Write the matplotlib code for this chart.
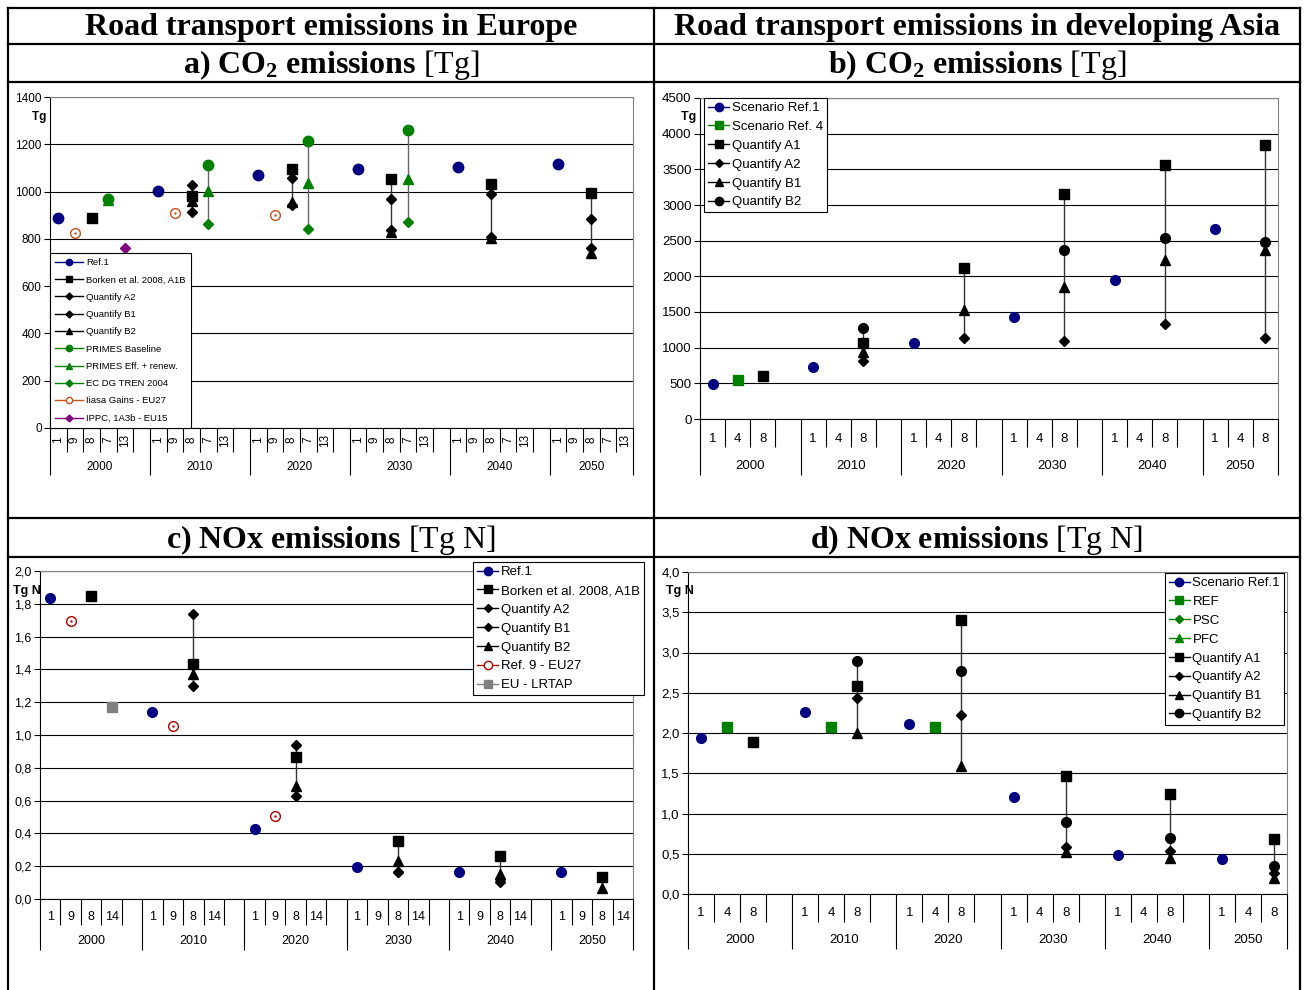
import numpy as np
import matplotlib.pyplot as plt
from matplotlib.lines import Line2D

plt.rcParams['font.family'] = ['Liberation Sans', 'DejaVu Sans']
plt.rcParams['mathtext.fontset'] = 'custom'
plt.rcParams['mathtext.rm'] = 'Liberation Serif'
plt.rcParams['mathtext.bf'] = 'Liberation Serif:bold'
plt.rcParams['mathtext.it'] = 'Liberation Serif:italic'

nan = np.nan
years = ['2000', '2010', '2020', '2030', '2040', '2050']

# a) Europe, CO2 [Tg]
a_slots = ['1', '9', '8', '7', '13']
a_ref1 = [888, 1002, 1070, 1095, 1104, 1117]
a_iiasa = [825, 909, 901, nan, nan, nan]
a_borken = [888, 981, 1095, 1053, 1032, 994]
a_qa2 = [nan, 1028, 1057, 969, 990, 884]
a_qb1 = [nan, 913, 943, 836, 808, 761]
a_qb2 = [nan, 960, 956, 830, 804, 740]
a_primes_base = [969, 1112, 1214, 1260, nan, nan]
a_primes_eff = [963, 1002, 1036, 1053, nan, nan]
a_ecdg = [nan, 863, 842, 871, nan, nan]
a_ippc = [761, nan, nan, nan, nan, nan]

# b) developing Asia, CO2 [Tg]
b_slots = ['1', '4', '8']
b_ref1 = [491, 729, 1065, 1430, 1949, 2664]
b_ref4 = [547, nan, nan, nan, nan, nan]
b_qa1 = [603, 1065, 2117, 3154, 3561, 3841]
b_qa2 = [nan, 813, 1136, 1094, 1332, 1136]
b_qb1 = [nan, 935, 1528, 1851, 2229, 2369]
b_qb2 = [nan, 1276, nan, 2369, 2537, 2481]

# c) Europe, NOx [Tg N]
c_slots = ['1', '9', '8', '14']
c_ref1 = [1.835, 1.14, 0.427, 0.195, 0.165, 0.165]
c_ref9 = [1.695, 1.055, 0.506, nan, nan, nan]
c_borken = [1.848, 1.433, 0.866, 0.354, 0.262, 0.134]
c_qa2 = [nan, 1.738, 0.939, 0.165, 0.104, nan]
c_qb1 = [nan, 1.299, 0.628, 0.165, 0.125, nan]
c_qb2 = [nan, 1.372, 0.689, 0.232, 0.152, 0.067]
c_lrtap = [1.17, nan, nan, nan, nan, nan]

# d) developing Asia, NOx [Tg N]
d_slots = ['1', '4', '8']
d_ref1 = [1.94, 2.26, 2.11, 1.205, 0.49, 0.43]
d_ref = [2.08, 2.08, 2.08, nan, nan, nan]
d_qa1 = [1.89, 2.58, 3.40, 1.465, 1.24, 0.68]
d_qa2 = [nan, 2.43, 2.22, 0.58, 0.53, 0.26]
d_qb1 = [nan, 2.00, 1.59, 0.52, 0.45, 0.20]
d_qb2 = [nan, 2.89, 2.77, 0.89, 0.70, 0.35]

NAVY = '#000080'
GREEN = '#008000'
BLACK = 'black'

W, H = 1306, 990
fig = plt.figure(figsize=(W / 100, H / 100), dpi=100)

# table frame and headers, in pixel coordinates
bg = fig.add_axes([0, 0, 1, 1])
bg.set_xlim(0, W)
bg.set_ylim(H, 0)
bg.axis('off')
for y in [8, 44, 82, 518, 557]:
    bg.plot([8, 1300], [y, y], color='black', lw=1.6)
for x in [8, 654, 1300]:
    bg.plot([x, x], [8, H], color='black', lw=1.6)

head = dict(ha='center', va='baseline', fontsize=23, family='Liberation Serif')
bg.text(331, 35, 'Road transport emissions in Europe', fontweight='bold', **head)
bg.text(977, 35, 'Road transport emissions in developing Asia', fontweight='bold', **head)
bg.text(331, 73, r'$\mathbf{a)\ CO_2\ emissions}$ [Tg]', **head)
bg.text(977, 73, r'$\mathbf{b)\ CO_2\ emissions}$ [Tg]', **head)
bg.text(331, 548, r'$\mathbf{c)\ NOx\ emissions}$ [Tg N]', **head)
bg.text(977, 548, r'$\mathbf{d)\ NOx\ emissions}$ [Tg N]', **head)


def category_axis(box, slots, yticks, ylabels, rotate, fs, short_px, long_px, lab_px, year_px):
    l, t, r, b = box
    ax = fig.add_axes([l / W, 1 - b / H, (r - l) / W, (b - t) / H])
    n = len(slots)
    total = len(years) * (n + 1) - 1
    ax.set_xlim(-0.5, total - 0.5)
    ax.set_ylim(yticks[0], yticks[-1])
    ax.set_yticks(yticks)
    ax.set_yticklabels(ylabels, fontsize=fs)
    ax.set_xticks([])
    ax.grid(axis='y', color='black', lw=0.8)
    ax.set_axisbelow(True)
    ax.tick_params(axis='y', direction='out', length=4, width=0.8, pad=2)
    for s in ['top', 'right']:
        ax.spines[s].set_color('#808080')
    frac = lambda y: (b - y) / (b - t)
    tr = ax.get_xaxis_transform()
    short = [g * (n + 1) + i - 0.5 for g in range(len(years)) for i in range(1, n + 1)]
    short = [s for s in short if s < total - 0.6]
    long_ = [g * (n + 1) - 0.5 for g in range(len(years))] + [total - 0.5]
    ax.vlines(short, frac(short_px), 0, transform=tr, clip_on=False, color='black', lw=0.8)
    ax.vlines(long_, frac(long_px), 0, transform=tr, clip_on=False, color='black', lw=0.8)
    for g, yr in enumerate(years):
        for i, s in enumerate(slots):
            ax.text(g * (n + 1) + i, frac(lab_px), s, transform=tr, ha='center', va='center',
                    rotation=90 if rotate else 0, fontsize=fs)
        x0 = g * (n + 1) - 0.5
        x1 = min(x0 + n + 1, total - 0.5)
        ax.text((x0 + x1) / 2, frac(year_px), yr, transform=tr, ha='center', va='center', fontsize=fs)
    pos = lambda i: [g * (n + 1) + i for g in range(len(years))]
    return ax, pos, frac


def points(ax, x, vals, marker, color, ms, mfc=None, z=3):
    ax.plot(x, vals, ls='none', marker=marker, ms=ms, color=color, mec=color,
            mfc=color if mfc is None else mfc, zorder=z, clip_on=False)
    if mfc == 'white':
        ax.plot(x, vals, ls='none', marker='.', ms=1.5, color=color, zorder=z + 0.1)


def range_line(ax, x, group, color):
    arr = np.array(group, dtype=float)
    lo = np.fmin.reduce(arr, axis=0)
    hi = np.fmax.reduce(arr, axis=0)
    ok = hi > lo
    ax.vlines(np.array(x)[ok], lo[ok], hi[ok], color=color, lw=1, zorder=2)


def handle(marker, color, ms, lc=None, mfc=None):
    return Line2D([], [], color=lc or color, lw=1, marker=marker, ms=ms, mec=color,
                  mfc=color if mfc is None else mfc)


def comma(v):
    return f'{v:.1f}'.replace('.', ',')


def box_legend(ax, hs, labs, **kw):
    leg = ax.legend(hs, labs, borderaxespad=0, fancybox=False, edgecolor='black',
                    framealpha=1, **kw)
    leg.get_frame().set_linewidth(0.8)
    leg.set_zorder(5)
    return leg


# ---------- panel a ----------
yt = np.arange(0, 1401, 200)
ax, pos, frac = category_axis((50, 97, 633, 428), a_slots, yt, [str(v) for v in yt],
                              True, 8.5, 452, 475, 440, 467)
ax.text(0, frac(117), 'Tg ', transform=ax.transAxes, ha='right', va='center',
        fontsize=8.5, fontweight='bold')
range_line(ax, pos(2), [a_borken, a_qa2, a_qb1, a_qb2], '#333333')
range_line(ax, pos(3), [a_primes_base, a_primes_eff, a_ecdg], '#666666')
points(ax, pos(0), a_ref1, 'o', NAVY, 7.5)
points(ax, pos(1), a_iiasa, 'o', '#C8501E', 7, mfc='white')
points(ax, pos(2), a_qb2, '^', BLACK, 7)
points(ax, pos(2), a_qa2, 'D', BLACK, 5.5)
points(ax, pos(2), a_qb1, 'D', BLACK, 5.5)
points(ax, pos(2), a_borken, 's', BLACK, 7.5)
points(ax, pos(3), a_primes_eff, '^', GREEN, 7.5)
points(ax, pos(3), a_ecdg, 'D', GREEN, 5.5)
points(ax, pos(3), a_primes_base, 'o', GREEN, 7.5)
points(ax, pos(4), a_ippc, 'D', '#800080', 5.5)
hs = [handle('o', NAVY, 4.5), handle('s', BLACK, 4.5), handle('D', BLACK, 3.5),
      handle('D', BLACK, 3.5), handle('^', BLACK, 4.5), handle('o', GREEN, 4.5),
      handle('^', GREEN, 4.5), handle('D', GREEN, 3.5),
      handle('o', '#C8501E', 4.5, mfc='white'), handle('D', '#800080', 3.5)]
labs = ['Ref.1', 'Borken et al. 2008, A1B', 'Quantify A2', 'Quantify B1', 'Quantify B2',
        'PRIMES Baseline', 'PRIMES Eff. + renew.', 'EC DG TREN 2004', 'Iiasa Gains - EU27',
        'IPPC, 1A3b - EU15']
box_legend(ax, hs, labs, loc='lower left', bbox_to_anchor=(0, 0), fontsize=6.8,
           labelspacing=0.88, handlelength=2.9, handletextpad=0.4, borderpad=0.55)

# ---------- panel b ----------
yt = np.arange(0, 4501, 500)
ax, pos, frac = category_axis((700, 98, 1278, 419), b_slots, yt, [str(v) for v in yt],
                              False, 9.5, 447, 475, 439, 466)
ax.text(0, frac(117), 'Tg ', transform=ax.transAxes, ha='right', va='center',
        fontsize=9, fontweight='bold')
range_line(ax, pos(2), [b_qa1, b_qa2, b_qb1, b_qb2], '#333333')
points(ax, pos(0), b_ref1, 'o', NAVY, 7)
points(ax, pos(1), b_ref4, 's', GREEN, 7)
points(ax, pos(2), b_qb1, '^', BLACK, 7)
points(ax, pos(2), b_qa2, 'D', BLACK, 5.5)
points(ax, pos(2), b_qa1, 's', BLACK, 7)
points(ax, pos(2), b_qb2, 'o', BLACK, 7)
hs = [handle('o', NAVY, 6), handle('s', GREEN, 6), handle('s', BLACK, 6),
      handle('D', BLACK, 4.5), handle('^', BLACK, 6), handle('o', BLACK, 6)]
labs = ['Scenario Ref.1', 'Scenario Ref. 4', 'Quantify A1', 'Quantify A2', 'Quantify B1',
        'Quantify B2']
box_legend(ax, hs, labs, loc='upper left', bbox_to_anchor=(4 / 578, 1), fontsize=9.5,
           labelspacing=0.5, handlelength=1.6, handletextpad=0.2, borderpad=0.3)

# ---------- panel c ----------
yt = np.round(np.arange(0, 2.01, 0.2), 1)
ax, pos, frac = category_axis((40, 571, 633, 899), c_slots, yt, [comma(v) for v in yt],
                              False, 9, 925, 950, 917, 941)
ax.text(-27 / 593, frac(591), 'Tg N', transform=ax.transAxes, ha='left', va='center',
        fontsize=9, fontweight='bold')
range_line(ax, pos(2), [c_borken, c_qa2, c_qb1, c_qb2], '#333333')
points(ax, pos(0), c_ref1, 'o', NAVY, 7)
points(ax, pos(1), c_ref9, 'o', '#B00000', 7, mfc='white')
points(ax, pos(2), c_qb2, '^', BLACK, 7)
points(ax, pos(2), c_qa2, 'D', BLACK, 5.5)
points(ax, pos(2), c_qb1, 'D', BLACK, 5.5)
points(ax, pos(2), c_borken, 's', BLACK, 7)
points(ax, pos(3), c_lrtap, 's', '#808080', 7)
hs = [handle('o', NAVY, 6), handle('s', BLACK, 6), handle('D', BLACK, 4.5),
      handle('D', BLACK, 4.5), handle('^', BLACK, 6),
      handle('o', '#B00000', 6, mfc='white'), handle('s', '#808080', 6)]
labs = ['Ref.1', 'Borken et al. 2008, A1B', 'Quantify A2', 'Quantify B1', 'Quantify B2',
        'Ref. 9 - EU27', 'EU - LRTAP']
box_legend(ax, hs, labs, loc='upper right',
           bbox_to_anchor=((644 - 40) / 593, (899 - 562) / 328), fontsize=9.5,
           labelspacing=0.5, handlelength=1.6, handletextpad=0.2, borderpad=0.3)

# ---------- panel d ----------
yt = np.round(np.arange(0, 4.01, 0.5), 1)
ax, pos, frac = category_axis((688, 572, 1287, 894), d_slots, yt, [comma(v) for v in yt],
                              False, 9.5, 922, 949, 913, 940)
ax.text(-22 / 599, frac(591), 'Tg N', transform=ax.transAxes, ha='left', va='center',
        fontsize=9, fontweight='bold')
range_line(ax, pos(2), [d_qa1, d_qa2, d_qb1, d_qb2], '#333333')
points(ax, pos(0), d_ref1, 'o', NAVY, 7)
points(ax, pos(1), d_ref, 's', GREEN, 7)
points(ax, pos(2), d_qb1, '^', BLACK, 7)
points(ax, pos(2), d_qa2, 'D', BLACK, 5.5)
points(ax, pos(2), d_qa1, 's', BLACK, 7)
points(ax, pos(2), d_qb2, 'o', BLACK, 7)
hs = [handle('o', NAVY, 6), handle('s', GREEN, 6), handle('D', GREEN, 4.5),
      handle('^', GREEN, 6), handle('s', BLACK, 6), handle('D', BLACK, 4.5),
      handle('^', BLACK, 6), handle('o', BLACK, 6)]
labs = ['Scenario Ref.1', 'REF', 'PSC', 'PFC', 'Quantify A1', 'Quantify A2', 'Quantify B1',
        'Quantify B2']
box_legend(ax, hs, labs, loc='upper right',
           bbox_to_anchor=((1284 - 688) / 599, (894 - 573) / 322), fontsize=9.5,
           labelspacing=0.5, handlelength=1.6, handletextpad=0.2, borderpad=0.3)

fig.savefig('out.png', dpi=100)
